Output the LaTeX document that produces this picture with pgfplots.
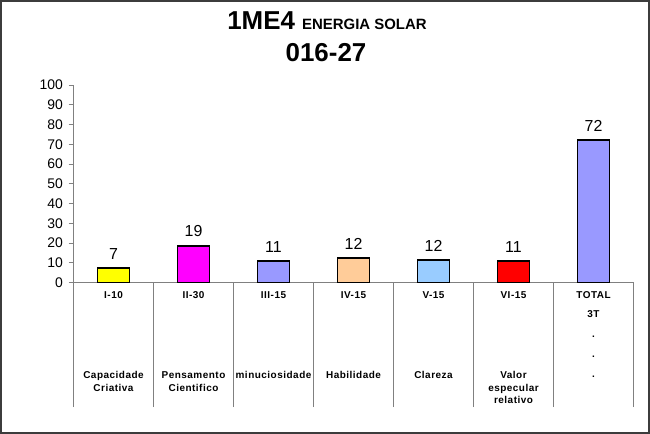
\documentclass[border=0pt]{standalone}
\usepackage{fontspec}
\setmainfont{Liberation Sans}
\newfontfamily\catfont{Liberation Sans}[LetterSpace=5]
\usepackage{pgfplots}
\pgfplotsset{compat=1.18}
\definecolor{framegray}{HTML}{3C3C3C}
\definecolor{axgray}{HTML}{808080}
\definecolor{peri}{HTML}{9999FF}
\definecolor{peach}{HTML}{FFCC99}
\definecolor{skyb}{HTML}{99CCFF}
\definecolor{yel}{HTML}{FFFF00}
\definecolor{mag}{HTML}{FF00FF}
\definecolor{rd}{HTML}{FF0000}

\begin{document}
\begin{tikzpicture}[x=1bp,y=1bp]
\useasboundingbox (0,0) rectangle (650,434);
\draw[framegray, line width=2bp] (1,1) rectangle (649,433);

% title
\node[anchor=base, inner sep=0pt, font=\bfseries] at (327,404)
  {\fontsize{26}{30}\selectfont 1ME4 \fontsize{15}{18}\selectfont ENERGIA SOLAR};
\node[anchor=base, inner sep=0pt, font=\bfseries\fontsize{26}{30}\selectfont] at (326,372) {016-27};

\begin{axis}[
    at={(73.5bp,151.5bp)}, anchor=south west,
    scale only axis, width=560bp, height=197.5bp,
    xmin=-0.5, xmax=6.5, ymin=0, ymax=100,
    axis x line=bottom, axis y line=left,
    axis line style={axgray, -, line width=0.8bp},
    ytick={0,10,...,100},
    xtick=\empty,
    extra x ticks={-0.5,0.5,1.5,2.5,3.5,4.5,5.5,6.5},
    extra x tick labels={},
    extra x tick style={tick align=outside, major tick length=124.5bp,
        tick style={axgray, line width=0.8bp}},
    tick align=outside, major tick length=5bp,
    ytick style={axgray, line width=0.8bp},
    yticklabel style={font=\fontsize{14}{16}\selectfont, xshift=-2bp},
    /pgf/number format/assume math mode=true,
    ybar, bar width=32bp, bar shift=0pt,
    nodes near coords, point meta=explicit symbolic,
    every node near coord/.append style={font=\fontsize{16}{18}\selectfont,
        inner sep=0pt, anchor=south, yshift=8bp, text=black},
    clip=false,
]
\addplot[bar shift=0pt, fill=yel, draw=black, line width=1.5bp] coordinates {(0,7.3) [7]};
\addplot[bar shift=0pt, fill=mag, draw=black, line width=1.5bp] coordinates {(1,18.6) [19]};
\addplot[bar shift=0pt, fill=peri, draw=black, line width=1.5bp] coordinates {(2,11.0) [11]};
\addplot[bar shift=0pt, fill=peach, draw=black, line width=1.5bp] coordinates {(3,12.4) [12]};
\addplot[bar shift=0pt, fill=skyb, draw=black, line width=1.5bp] coordinates {(4,11.5) [12]};
\addplot[bar shift=0pt, fill=rd, draw=black, line width=1.5bp] coordinates {(5,10.8) [11]};
\addplot[bar shift=0pt, fill=peri, draw=black, line width=1.5bp] coordinates {(6,72.1) [72]};
\end{axis}

% category table text
\tikzset{cat/.style={anchor=base, inner sep=0pt, font=\catfont\bfseries\fontsize{10}{12}\selectfont}}
\foreach \lab [count=\i from 0] in {I-10,II-30,III-15,IV-15,V-15,VI-15,TOTAL}
  \node[cat] at (113.5+80*\i,135) {\lab};
\node[cat] at (113.5,55) {Capacidade};
\node[cat] at (113.5,42.5) {Criativa};
\node[cat] at (193.5,55) {Pensamento};
\node[cat] at (193.5,42.5) {Cientifico};
\node[cat] at (273.5,55) {minuciosidade};
\node[cat] at (353.5,55) {Habilidade};
\node[cat] at (433.5,55) {Clareza};
\node[cat] at (513.5,55) {Valor};
\node[cat] at (513.5,42.5) {especular};
\node[cat] at (513.5,30) {relativo};
\node[cat] at (593.5,116.5) {3T};
\node[cat] at (593.5,96) {.};
\node[cat] at (593.5,76) {.};
\node[cat] at (593.5,56) {.};
\end{tikzpicture}
\end{document}
